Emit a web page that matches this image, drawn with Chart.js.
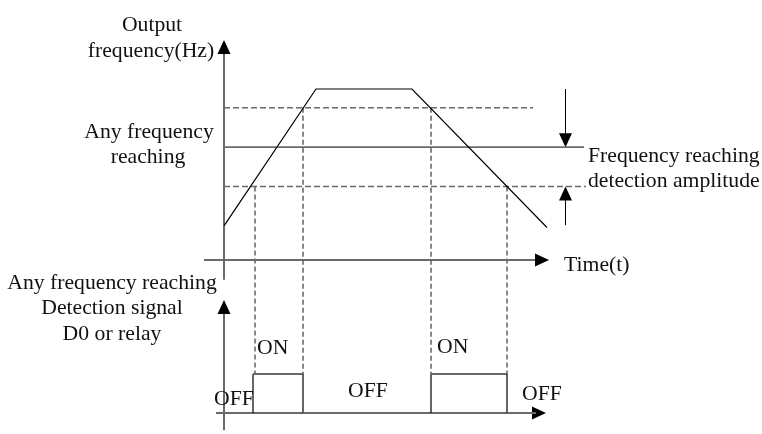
<!DOCTYPE html>
<html>
<head>
<meta charset="utf-8">
<script src="https://cdn.jsdelivr.net/npm/chart.js@4.4.1/dist/chart.umd.min.js"></script>
<style>
  html, body { margin: 0; padding: 0; background: #fff; }
  #wrap { width: 762px; height: 434px; }
</style>
</head>
<body>
<div id="wrap"><canvas id="freq-reach-chart"></canvas></div>
<script>
// output frequency ramp (time units, Hz)
const rampTime = [0, 9.2, 18.8, 32.3];
const rampFreq = [10, 50, 50, 9.5];

// any-frequency-reaching setpoint and its detection band
const reachFreq = 33;
const bandUpper = 44.5;
const bandLower = 21.5;
const reachLineEnd = 36;
const upperLineEnd = 30.9;
const lowerLineEnd = 36.2;

// where the ramp crosses the band edges -> dashed drop lines
const dropTime = [3.1, 7.9, 20.7, 28.3];
const dropFreq = [21.5, 44.5, 44.5, 21.5];

// DO / relay detection signal (0 = OFF, 1 = ON)
const signalTime = [-0.8, 2.9, 2.9, 7.9, 7.9, 20.7, 20.7, 28.3, 28.3, 31.2];
const signalLevel = [0, 0, 1, 1, 0, 0, 1, 1, 0, 0];

// canvas mapping: time 0 sits on the y axes, freq 0 on the upper time axis
const W = 762, H = 434;
const T0_PX = 224, PX_PER_T = 10;
const F0_PX = 260, PX_PER_HZ = 3.42;
const S0_PX = 413, PX_PER_S = 39;

const pts = (xs, ys) => xs.map((v, i) => ({ x: v, y: ys[i] }));
const hline = (y, x1, x2) => [{ x: x1, y: y }, { x: x2, y: y }];

const FONT = '21.7px "Liberation Serif", "Times New Roman", serif';
const GREY = '#6a6a6a';

// text: [text, x, baseline y, align]
const textItems = [
  ['Output', 152, 31, 'center'],
  ['frequency(Hz)', 151, 57, 'center'],
  ['Any frequency', 149, 138, 'center'],
  ['reaching', 148, 163, 'center'],
  ['Frequency reaching', 588, 162, 'left'],
  ['detection amplitude', 588, 187, 'left'],
  ['Time(t)', 564, 271, 'left'],
  ['Any frequency reaching', 112, 289, 'center'],
  ['Detection signal', 112, 314, 'center'],
  ['D0 or relay', 112, 340, 'center'],
  ['ON', 257, 354, 'left'],
  ['ON', 437, 353, 'left'],
  ['OFF', 214, 405, 'left'],
  ['OFF', 348, 397, 'left'],
  ['OFF', 522, 400, 'left']
];

function arrowHead(ctx, x, y, dir) {
  const len = 14, half = 6.5;
  ctx.beginPath();
  ctx.moveTo(x, y);
  if (dir === 'up') { ctx.lineTo(x - half, y + len); ctx.lineTo(x + half, y + len); }
  if (dir === 'down') { ctx.lineTo(x - half, y - len); ctx.lineTo(x + half, y - len); }
  if (dir === 'right') { ctx.lineTo(x - len, y - half); ctx.lineTo(x - len, y + half); }
  ctx.closePath();
  ctx.fill();
}

function seg(ctx, x1, y1, x2, y2) {
  ctx.beginPath();
  ctx.moveTo(x1, y1);
  ctx.lineTo(x2, y2);
  ctx.stroke();
}

const diagramPlugin = {
  id: 'diagram',
  beforeDatasetsDraw(chart) {
    const { ctx } = chart;
    const x = chart.scales.x, yF = chart.scales.yF, yS = chart.scales.yS;
    ctx.save();
    ctx.fillStyle = '#000';

    // axes
    ctx.strokeStyle = GREY;
    ctx.lineWidth = 2;
    const ax = x.getPixelForValue(0);
    // upper: frequency axis + time axis
    seg(ctx, ax, yF.getPixelForValue(-5.8), ax, yF.getPixelForValue(64.3) + 12);
    arrowHead(ctx, ax, yF.getPixelForValue(64.3), 'up');
    const ty = yF.getPixelForValue(0);
    seg(ctx, x.getPixelForValue(-2), ty, x.getPixelForValue(32.5) - 12, ty);
    arrowHead(ctx, x.getPixelForValue(32.5), ty, 'right');
    // lower: signal axis + time axis
    seg(ctx, ax, yS.getPixelForValue(-0.44), ax, yS.getPixelForValue(2.9) + 12);
    arrowHead(ctx, ax, yS.getPixelForValue(2.9), 'up');
    const sy = yS.getPixelForValue(0);
    seg(ctx, x.getPixelForValue(-0.8), sy, x.getPixelForValue(32.2) - 12, sy);
    arrowHead(ctx, x.getPixelForValue(32.2), sy, 'right');

    // dashed drop lines from the band crossings to the ON level
    ctx.strokeStyle = GREY;
    ctx.lineWidth = 1.6;
    ctx.setLineDash([5, 3]);
    dropTime.forEach((t, i) => {
      const px = x.getPixelForValue(t);
      seg(ctx, px, yF.getPixelForValue(dropFreq[i]), px, yS.getPixelForValue(1));
    });
    ctx.setLineDash([]);

    // detection amplitude arrows
    ctx.strokeStyle = '#000';
    ctx.lineWidth = 1;
    const rx = Math.round(x.getPixelForValue(34.1)) + 0.5;
    seg(ctx, rx, yF.getPixelForValue(50), rx, yF.getPixelForValue(reachFreq) - 12);
    arrowHead(ctx, rx, yF.getPixelForValue(reachFreq), 'down');
    seg(ctx, rx, yF.getPixelForValue(10.2), rx, yF.getPixelForValue(bandLower) + 12);
    arrowHead(ctx, rx, yF.getPixelForValue(bandLower), 'up');
    ctx.restore();
  },
  afterDraw(chart) {
    const { ctx } = chart;
    ctx.save();
    ctx.font = FONT;
    ctx.fillStyle = '#111';
    ctx.textBaseline = 'alphabetic';
    textItems.forEach(([txt, px, py, align]) => {
      ctx.textAlign = align;
      ctx.fillText(txt, px, py);
    });
    ctx.restore();
  }
};

const isEdge = c => c.p0.parsed.x === c.p1.parsed.x;

const ctx = document.getElementById('freq-reach-chart').getContext('2d');

new Chart(ctx, {
  type: 'scatter',
  data: {
    datasets: [
      {
        label: 'Output frequency',
        data: pts(rampTime, rampFreq),
        yAxisID: 'yF',
        showLine: true,
        borderColor: '#000',
        borderWidth: 1.2,
        pointRadius: 0
      },
      {
        label: 'Any frequency reaching',
        data: hline(reachFreq, 0, reachLineEnd),
        yAxisID: 'yF',
        showLine: true,
        borderColor: GREY,
        borderWidth: 1.8,
        pointRadius: 0
      },
      {
        label: 'Band upper',
        data: hline(bandUpper, 0, upperLineEnd),
        yAxisID: 'yF',
        showLine: true,
        borderColor: GREY,
        borderWidth: 1.6,
        borderDash: [6, 3],
        pointRadius: 0
      },
      {
        label: 'Band lower',
        data: hline(bandLower, 0, lowerLineEnd),
        yAxisID: 'yF',
        showLine: true,
        borderColor: GREY,
        borderWidth: 1.6,
        borderDash: [6, 3],
        pointRadius: 0
      },
      {
        label: 'Detection signal',
        data: pts(signalTime, signalLevel),
        yAxisID: 'yS',
        showLine: true,
        borderColor: GREY,
        borderWidth: 2,
        pointRadius: 0,
        segment: {
          borderColor: c => isEdge(c) ? '#000' : GREY,
          borderWidth: c => isEdge(c) ? 1.2 : 2
        }
      }
    ]
  },
  options: {
    responsive: true,
    maintainAspectRatio: false,
    animation: false,
    events: [],
    layout: { padding: 0 },
    plugins: {
      legend: { display: false },
      tooltip: { enabled: false },
      title: { display: false }
    },
    scales: {
      x: {
        type: 'linear',
        display: false,
        min: -T0_PX / PX_PER_T,
        max: (W - T0_PX) / PX_PER_T
      },
      yF: {
        type: 'linear',
        display: false,
        min: (F0_PX - H) / PX_PER_HZ,
        max: F0_PX / PX_PER_HZ
      },
      yS: {
        type: 'linear',
        display: false,
        min: (S0_PX - H) / PX_PER_S,
        max: S0_PX / PX_PER_S
      }
    }
  },
  plugins: [diagramPlugin]
});
</script>
</body>
</html>
